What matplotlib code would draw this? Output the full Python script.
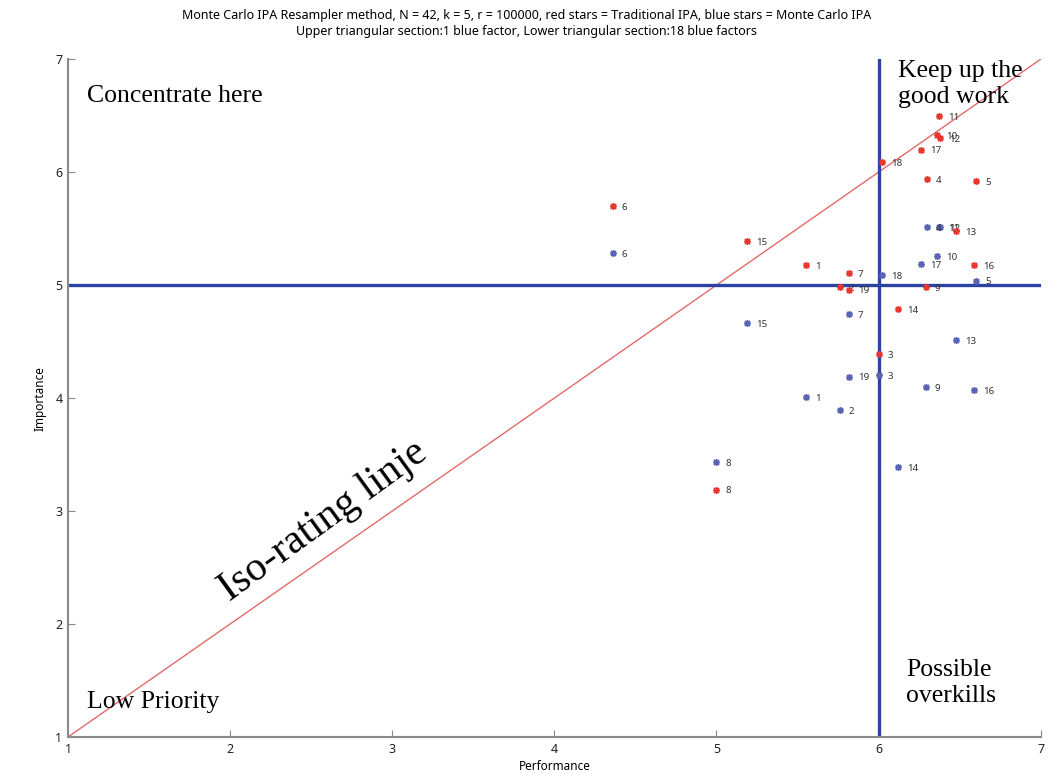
import matplotlib.pyplot as plt

# factor numbers, performance is shared, importance from the two methods
factors = list(range(1, 20))
performance = [5.55, 5.76, 6.00, 6.30, 6.60, 4.36, 5.815, 5.00, 6.29, 6.36,
               6.37, 6.38, 6.48, 6.12, 5.19, 6.59, 6.26, 6.02, 5.815]
importance_trad = [5.18, 4.98, 4.39, 5.94, 5.92, 5.70, 5.11, 3.19, 4.98, 6.33,
                   6.50, 6.30, 5.48, 4.79, 5.39, 5.18, 6.20, 6.09, 4.96]
importance_mc = [4.01, 3.89, 4.20, 5.51, 5.04, 5.28, 4.74, 3.43, 4.10, 5.26,
                 5.51, 5.51, 4.51, 3.39, 4.66, 4.07, 5.19, 5.09, 4.19]
perf_cut = 6.0
imp_cut = 5.0

title_lines = ["Monte Carlo IPA Resampler method, N = 42, k = 5, r = 100000, red stars = Traditional IPA, blue stars = Monte Carlo IPA",
               "Upper triangular section:1 blue factor, Lower triangular section:18 blue factors"]

sans = "Noto Sans"
serif = "Liberation Serif"
spine_col = "#8a8a8a"

fig = plt.figure(figsize=(10.62, 7.78), dpi=100)
ax = fig.add_axes([0.064, 0.0527, 0.916, 0.8713])
ax.set_xlim(1, 7)
ax.set_ylim(1, 7)

# iso-rating line and the two cut lines
ax.plot([1, 7], [1, 7], color="#e26a6a", lw=1.0, zorder=1)
ax.axvline(perf_cut, color="#2c43a3", lw=2.4, zorder=2)
ax.axhline(imp_cut, color="#2c43a3", lw=2.4, zorder=2)

star = (8, 2, 0)
ax.plot(performance, importance_mc, ls="none", marker=star, ms=5, mew=1.0,
        color="#5a64b4", zorder=3)
ax.plot(performance, importance_trad, ls="none", marker=star, ms=5, mew=1.0,
        color="#e8372f", zorder=4)

for f, x, y1, y2 in zip(factors, performance, importance_trad, importance_mc):
    for y in (y1, y2):
        ax.annotate(str(f), (x, y), xytext=(6.5, -1), textcoords="offset points",
                    va="center", ha="left", fontsize=7, color="#333333",
                    family=sans)

# quadrant texts (multi-line ones anchored at the last baseline)
ax.text(1.117, 6.62, "Concentrate here", family=serif, fontsize=18.5, va="baseline")
ax.text(6.117, 6.61, "Keep up the\ngood work", family=serif, fontsize=18.5,
        va="baseline", linespacing=1.22)
ax.text(6.17, 1.31, "Possible\noverkills", family=serif, fontsize=18.5,
        va="baseline", linespacing=1.22)
ax.text(1.117, 1.26, "Low Priority", family=serif, fontsize=18.5, va="baseline")
ax.text(2.0, 2.2, "Iso-rating linje", family=serif, fontsize=30, rotation=36,
        rotation_mode="anchor", va="baseline", ha="left")

ax.set_xticks(range(1, 8))
ax.set_yticks(range(1, 8))
ax.tick_params(direction="in", length=5, color=spine_col, labelsize=9,
               labelcolor="#222222", pad=4)
for lab in ax.get_xticklabels() + ax.get_yticklabels():
    lab.set_family(sans)
for side in ("top", "right"):
    ax.spines[side].set_visible(False)
for side in ("left", "bottom"):
    ax.spines[side].set_color(spine_col)
    ax.spines[side].set_linewidth(1.5)

ax.set_xlabel("Performance", family=sans, fontsize=8.5, labelpad=3)
ax.set_ylabel("Importance", family=sans, fontsize=8.5, labelpad=6)

fig.text(0.496, 1 - 16 / 778, title_lines[0], ha="center", va="center",
         family=sans, fontsize=9)
fig.text(0.496, 1 - 32 / 778, title_lines[1], ha="center", va="center",
         family=sans, fontsize=9)

fig.savefig("out.png", dpi=100)
